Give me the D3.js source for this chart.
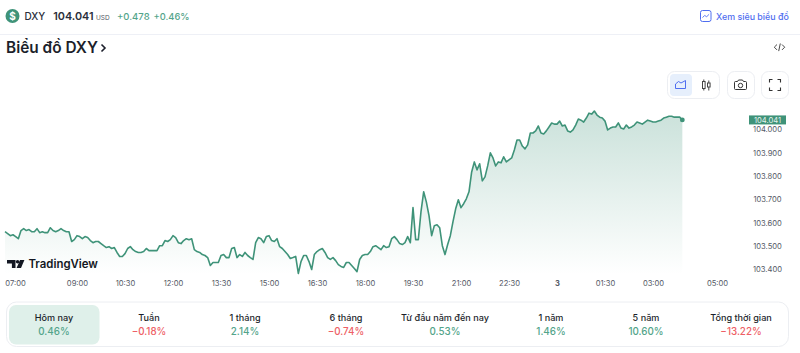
<!DOCTYPE html>
<html lang="vi">
<head>
<meta charset="utf-8">
<title>Biểu đồ DXY</title>
<script src="https://cdn.jsdelivr.net/npm/d3@7"></script>
<style>
  html, body { margin: 0; padding: 0; background: #fff; }
  svg { display: block; font-family: Inter, "Noto Sans", sans-serif; }
  .tick line, .domain { display: none; }
</style>
</head>
<body>
<div id="chart"></div>
<script>
// Gia tri doc tu hinh, moi diem cach nhau 5 phut, bat dau 06:45
const values = [
  103.562,103.554,103.545,103.549,103.541,103.532,103.567,103.575,103.567,103.571,
  103.562,103.562,103.575,103.558,103.562,103.558,103.558,103.579,103.567,103.562,
  103.567,103.575,103.567,103.562,103.562,103.520,103.528,103.545,103.541,103.532,
  103.541,103.537,103.524,103.515,103.520,103.520,103.511,103.502,103.494,103.498,
  103.490,103.494,103.473,103.456,103.456,103.468,103.490,103.498,103.485,103.477,
  103.473,103.473,103.477,103.490,103.481,103.481,103.481,103.481,103.502,103.502,
  103.524,103.520,103.528,103.545,103.537,103.515,103.511,103.524,103.532,103.528,
  103.532,103.485,103.477,103.473,103.464,103.460,103.451,103.417,103.430,103.430,
  103.430,103.460,103.464,103.451,103.451,103.490,103.494,103.451,103.464,103.456,
  103.473,103.460,103.451,103.443,103.515,103.537,103.532,103.515,103.541,103.545,
  103.524,103.520,103.532,103.498,103.490,103.477,103.464,103.447,103.451,103.456,
  103.383,103.434,103.460,103.460,103.434,103.400,103.464,103.477,103.485,103.490,
  103.473,103.451,103.443,103.451,103.438,103.421,103.413,103.409,103.430,103.430,
  103.417,103.404,103.391,103.443,103.460,103.464,103.464,103.477,103.498,103.502,
  103.494,103.485,103.502,103.494,103.498,103.532,103.541,103.528,103.511,103.507,
  103.515,103.541,103.515,103.665,103.528,103.528,103.648,103.733,103.690,103.631,
  103.545,103.588,103.592,103.579,103.502,103.464,103.507,103.545,103.605,103.660,
  103.699,103.665,103.682,103.703,103.733,103.818,103.861,103.827,103.853,103.780,
  103.797,103.844,103.900,103.878,103.844,103.861,103.857,103.883,103.861,103.870,
  103.878,103.912,103.955,103.955,103.929,103.917,103.934,103.985,103.985,103.994,
  104.015,103.985,103.981,103.994,104.011,104.028,104.023,104.023,104.036,104.015,
  104.019,103.994,103.989,103.998,104.019,104.045,104.040,104.032,104.049,104.070,
  104.066,104.079,104.062,104.053,104.049,104.036,103.998,104.006,104.011,104.011,
  104.028,104.006,104.002,104.019,104.006,104.011,104.019,104.032,104.028,104.023,
  104.032,104.040,104.036,104.032,104.032,104.036,104.040,104.049,104.053,104.057,
  104.057,104.053,104.053,104.053,104.041
];
const startTime = new Date(2024, 0, 2, 6, 45);

const yTicks = [103.4, 103.5, 103.6, 103.7, 103.8, 103.9, 104.0];
const xTickHours = [7, 9, 10.5, 12, 13.5, 15, 16.5, 18, 19.5, 21, 22.5, 24, 25.5, 27, 29];
const xTickLabels = ["07:00", "09:00", "10:30", "12:00", "13:30", "15:00", "16:30", "18:00",
  "19:30", "21:00", "22:30", "3", "01:30", "03:00", "05:00"];

const periods = ["Hôm nay", "Tuần", "1 tháng", "6 tháng", "Từ đầu năm đến nay", "1 năm", "5 năm", "Tổng thời gian"];
const changes = [0.46, -0.18, 2.14, -0.74, 0.53, 1.46, 10.60, -13.22];
const periodCenters = [54, 149, 245, 346, 445, 551, 646, 741];

const green = "#3f9379", textGreen = "#53a48a", red = "#ee5f66", dark = "#1c1f2b", blue = "#4f6ef0";

const svg = d3.select("#chart").append("svg")
  .attr("width", 800)
  .attr("height", 353);

const hourDate = h => new Date(2024, 0, 2, 0, h * 60);
const points = values.map((v, i) => ({ t: d3.timeMinute.offset(startTime, i * 5), v }));

// Escalas
const xScale = d3.scaleTime().domain([hourDate(7), hourDate(29)]).range([13, 717]);
const yScale = d3.scaleLinear().domain([103.4, 104]).range([269.5, 129.5]);

// Gradient of the area
const grad = svg.append("defs").append("linearGradient")
  .attr("id", "areaFill")
  .attr("gradientUnits", "userSpaceOnUse")
  .attr("x1", 0).attr("x2", 0).attr("y1", 108).attr("y2", 274);
grad.append("stop").attr("offset", 0).attr("stop-color", "#3f9379").attr("stop-opacity", 0.28);
grad.append("stop").attr("offset", 1).attr("stop-color", "#3f9379").attr("stop-opacity", 0);

const area = d3.area().x(d => xScale(d.t)).y0(274).y1(d => yScale(d.v));
const line = d3.line().x(d => xScale(d.t)).y(d => yScale(d.v));

svg.append("path").attr("d", area(points)).attr("fill", "url(#areaFill)");
svg.append("path").attr("d", line(points))
  .attr("fill", "none").attr("stroke", green).attr("stroke-width", 1.6).attr("stroke-linejoin", "round");

const last = points[points.length - 1];
svg.append("circle")
  .attr("cx", xScale(last.t)).attr("cy", yScale(last.v)).attr("r", 2.4).attr("fill", green);

// Eje y
const yAxis = svg.append("g")
  .attr("transform", "translate(767.5,0)")
  .call(d3.axisRight(yScale).tickValues(yTicks).tickSize(0).tickPadding(0).tickFormat(d3.format(".3f")));
yAxis.selectAll("text")
  .attr("text-anchor", "middle").attr("font-size", 7.6).attr("font-family", "Inter").attr("fill", "#555a66");

svg.append("rect").attr("x", 749).attr("y", yScale(last.v) - 4.5).attr("width", 37).attr("height", 9).attr("fill", green);
svg.append("text").attr("x", 767.5).attr("y", yScale(last.v) + 2.8)
  .attr("text-anchor", "middle").attr("font-size", 7.6).attr("fill", "#e4f1ec").text(last.v.toFixed(3));

// Eje x
const xAxis = svg.append("g")
  .attr("transform", "translate(0,274)")
  .call(d3.axisBottom(xScale).tickValues(xTickHours.map(hourDate)).tickSize(0).tickPadding(7)
    .tickFormat((d, i) => xTickLabels[i]));
xAxis.selectAll("text")
  .attr("font-size", 7.6).attr("font-family", "Inter").attr("fill", "#555a66")
  .attr("font-weight", (d, i) => xTickLabels[i] === "3" ? 700 : 400)
  .attr("dx", (d, i) => i === 0 ? 2 : 0);

// TradingView logo
const logo = svg.append("g").attr("fill", "#131722");
logo.append("path").attr("d", "M7 260h8.5v8h-3.6v-4.6H7z");
logo.append("circle").attr("cx", 17.6).attr("cy", 261.8).attr("r", 1.8);
logo.append("path").attr("d", "M20 260h4.4l-3.4 8h-4.4z");
logo.append("text").attr("x", 28.5).attr("y", 268.4)
  .attr("font-size", 11.4).attr("font-weight", 600).text("TradingView");

// Header
svg.append("circle").attr("cx", 12.5).attr("cy", 16).attr("r", 7).attr("fill", green);
svg.append("text").attr("x", 12.5).attr("y", 19.6).attr("text-anchor", "middle")
  .attr("font-size", 10).attr("font-weight", 700).attr("fill", "#fff").text("$");
svg.append("text").attr("x", 24.5).attr("y", 20).attr("font-size", 10).attr("font-weight", 500).attr("fill", "#2b2f3a").text("DXY");
svg.append("text").attr("x", 53.3).attr("y", 20).attr("font-size", 10.8).attr("font-weight", 600).attr("fill", "#2b2f3a").text("104.041");
svg.append("text").attr("x", 96).attr("y", 20).attr("font-size", 6.5).attr("fill", "#555a66").text("USD");
svg.append("text").attr("x", 117).attr("y", 20).attr("font-size", 9.5).attr("font-weight", 500).attr("fill", textGreen).text("+0.478");
svg.append("text").attr("x", 153.5).attr("y", 20).attr("font-size", 9.3).attr("font-weight", 500).attr("fill", textGreen).text("+0.46%");
svg.append("line").attr("x1", 0).attr("x2", 800).attr("y1", 34.5).attr("y2", 34.5).attr("stroke", "#eef0f6");

svg.append("rect").attr("x", 700.5).attr("y", 10.5).attr("width", 10.5).attr("height", 11).attr("rx", 2)
  .attr("fill", "none").attr("stroke", blue);
svg.append("path").attr("d", "M702.5 17.5l2.2-2 2 1.2 2.4-2.4").attr("fill", "none").attr("stroke", blue).attr("stroke-width", 0.9);
svg.append("text").attr("x", 716).attr("y", 20).attr("font-size", 8.9).attr("font-weight", 500).attr("fill", blue).text("Xem siêu biểu đồ");

// Titulo
svg.append("text").attr("x", 6).attr("y", 53.3).attr("font-size", 15.4).attr("font-weight", 600).attr("fill", dark).text("Biểu đồ DXY");
svg.append("path").attr("d", "M101.5 44.5l3.5 3.5-3.5 3.5").attr("fill", "none").attr("stroke", dark).attr("stroke-width", 1.6);
svg.append("path").attr("d", "M777 44.5l-2.7 2.7 2.7 2.7M782 44.5l2.7 2.7-2.7 2.7M780.3 43.5l-1.6 7.6")
  .attr("fill", "none").attr("stroke", "#333").attr("stroke-width", 0.9);

// Botones
const btn = (x, w) => svg.append("rect").attr("x", x).attr("y", 71.5).attr("width", w).attr("height", 27).attr("rx", 7)
  .attr("fill", "#fff").attr("stroke", "#eceef2");
btn(667.5, 52); btn(727.5, 27); btn(761.5, 27);
svg.append("rect").attr("x", 670).attr("y", 74).attr("width", 22).attr("height", 22).attr("rx", 4).attr("fill", "#e6effc");
svg.append("path").attr("d", "M675.5 88.5v-4.5l3-2.5 2.5 1.5 4.5-2.5v8h-10z").attr("fill", "none").attr("stroke", blue);
const candle = "#444";
svg.append("path").attr("d", "M703.8 79.5v11M708.8 80.5v10").attr("stroke", candle).attr("fill", "none");
svg.append("rect").attr("x", 702.5).attr("y", 81.5).attr("width", 2.6).attr("height", 7).attr("fill", "#fff").attr("stroke", candle);
svg.append("rect").attr("x", 707.5).attr("y", 83).attr("width", 2.6).attr("height", 4).attr("fill", "#fff").attr("stroke", candle);
svg.append("path").attr("d", "M735.5 81.5h2l1-1.5h4l1 1.5h2a1 1 0 0 1 1 1v6a1 1 0 0 1-1 1h-10a1 1 0 0 1-1-1v-6a1 1 0 0 1 1-1z")
  .attr("fill", "none").attr("stroke", "#333");
svg.append("circle").attr("cx", 740.5).attr("cy", 85.5).attr("r", 2.2).attr("fill", "none").attr("stroke", "#333");
svg.append("path").attr("d", "M769.5 82.5v-3h3M777.5 79.5h3v3M780.5 87.5v3h-3M772.5 90.5h-3v-3")
  .attr("fill", "none").attr("stroke", "#333").attr("stroke-width", 1.1);

// Panel de variaciones
svg.append("rect").attr("x", 6.5).attr("y", 302).attr("width", 782).attr("height", 44.5).attr("rx", 10)
  .attr("fill", "#fff").attr("stroke", "#eceef2");
svg.append("rect").attr("x", 9).attr("y", 305).attr("width", 90.5).attr("height", 39.5).attr("rx", 7).attr("fill", "#dff0ea");

const fmtChange = d => (d < 0 ? "\u2212" : "") + Math.abs(d).toFixed(2) + "%";

svg.selectAll("text.period")
  .data(periods)
  .enter()
  .append("text")
  .attr("class", "period")
  .attr("x", (d, i) => periodCenters[i])
  .attr("y", 321)
  .attr("text-anchor", "middle")
  .attr("font-size", 9.1)
  .attr("font-weight", 500)
  .attr("fill", dark)
  .text(d => d);

svg.selectAll("text.change")
  .data(changes)
  .enter()
  .append("text")
  .attr("class", "change")
  .attr("x", (d, i) => periodCenters[i])
  .attr("y", 335)
  .attr("text-anchor", "middle")
  .attr("font-size", 9.8)
  .attr("font-weight", 500)
  .attr("fill", d => d < 0 ? red : textGreen)
  .text(fmtChange);
</script>
</body>
</html>
